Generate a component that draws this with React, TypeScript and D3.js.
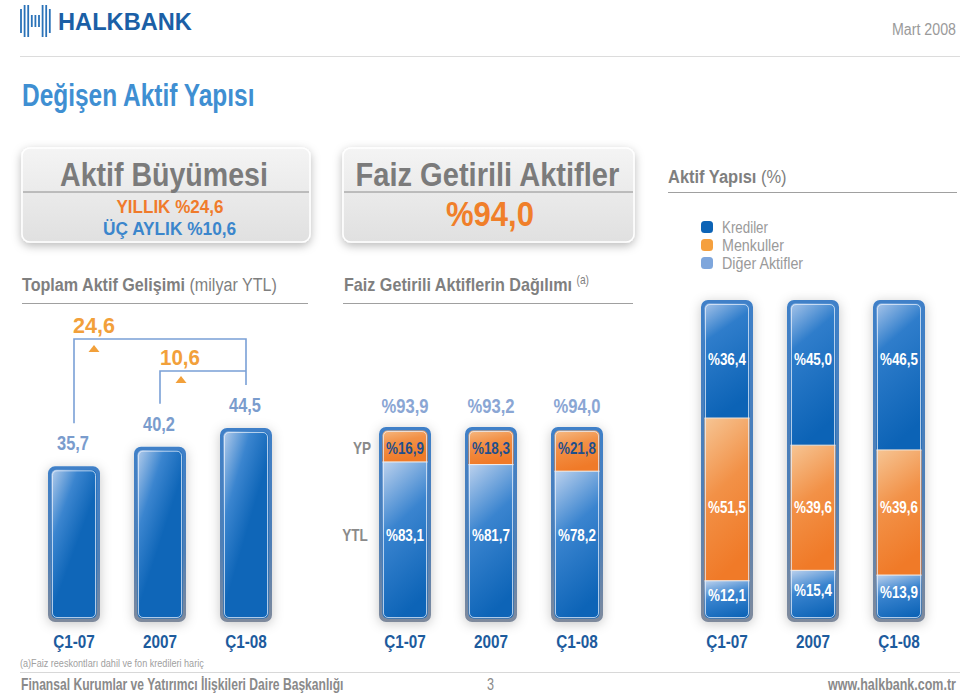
import React from "react";
import * as d3 from "d3";

// ---------- data ----------
const periods = ["Ç1-07", "2007", "Ç1-08"];
const totalAssets = [35.7, 40.2, 44.5]; // milyar YTL
const growthYearly = 24.6;
const growthQuarterly = 10.6;
const fgaShare = 94.0;
const fgaTotals = [93.9, 93.2, 94.0];
const fgaYP = [16.9, 18.3, 21.8];
const fgaYTL = [83.1, 81.7, 78.2];
const krediler = [36.4, 45.0, 46.5];
const menkuller = [51.5, 39.6, 39.6];
const digerAktifler = [12.1, 15.4, 13.9];
const legendLabels = ["Krediler", "Menkuller", "Diğer Aktifler"];
const legendColors = ["#0c63b6", "#f5a03e", "#7ea6dc"];

// ---------- helpers ----------
const FONT = "'Liberation Sans', Arial, sans-serif";
const fmt = (v: number) => d3.format(".1f")(v).replace(".", ",");
const BW = 52;
const BASE = 622;

let _ctx: CanvasRenderingContext2D | null = null;
function measure(text: string, size: number, bold: boolean) {
  if (!_ctx) _ctx = document.createElement("canvas").getContext("2d");
  if (!_ctx) return text.length * size * 0.55;
  _ctx.font = `${bold ? "bold " : ""}${size}px "Liberation Sans", Arial, sans-serif`;
  return _ctx.measureText(text).width;
}

// condensed text: parts rendered as tspans, horizontally scaled to a target width
function T({ x, y, size, bold = false, anchor = "start", fill, w, k = 0.8, children, parts }: any) {
  const ps: { t: string; b: boolean; s?: number; dy?: number }[] = parts ?? [{ t: String(children), b: bold }];
  const nat = ps.reduce((a, p) => a + measure(p.t, p.s ?? size, p.b), 0);
  const width = w ?? nat * k;
  const sx = width / nat;
  const x0 = anchor === "middle" ? x - width / 2 : anchor === "end" ? x - width : x;
  return (
    <text x={0} y={0} transform={`translate(${x0},${y}) scale(${sx},1)`} fontSize={size} fill={fill}>
      {ps.map((p, i) => (
        <tspan key={i} fontWeight={p.b ? "bold" : "normal"} fontSize={p.s ?? size} dy={p.dy ?? 0} style={{ whiteSpace: "pre" }}>
          {p.t}
        </tspan>
      ))}
    </text>
  );
}

function BarFrame({ cx, top, bottom, id, children }: any) {
  const x = cx - BW / 2;
  const h = bottom - top;
  return (
    <g>
      <rect x={x} y={top} width={BW} height={h} rx={7} fill="url(#frameGrad)" filter="url(#barShadow)" />
      <clipPath id={id}>
        <rect x={x + 3.5} y={top + 3.5} width={BW - 7} height={h - 7} rx={5} />
      </clipPath>
      <g clipPath={`url(#${id})`}>{children}</g>
      <rect x={x + 4.5} y={top + 4.5} width={BW - 9} height={h - 9} rx={4.5} fill="none" stroke="#e6eef9" strokeOpacity={0.75} strokeWidth={1} />
    </g>
  );
}

export default function App() {
  // left panel
  const xL = d3.scalePoint<string>().domain(periods).range([74, 246]);
  const yL = d3.scaleLinear().domain([0, 50]).range([BASE, BASE - 218]);
  // middle panel
  const xM = d3.scalePoint<string>().domain(periods).range([405, 577]);
  const topM = 427;
  const yM = d3.scaleLinear().domain([0, 100]).range([BASE - 3, topM + 3]);
  // right panel
  const xR = d3.scalePoint<string>().domain(periods).range([727, 899]);
  const topR = 300;
  const yR = d3.scaleLinear().domain([0, 100]).range([BASE - 3, topR + 3]);

  const bracket1Y = 339;
  const bracket2Y = 371;

  const gray = "#7f7f7f";
  const catColor = "#1d5b9d";

  return (
    <svg width={960} height={699} style={{ position: "absolute", left: 0, top: 0, display: "block", background: "#fff" }} fontFamily={FONT}>
      <defs>
        <linearGradient id="frameGrad" x1="0" y1="0" x2="0" y2="1">
          <stop offset="0" stopColor="#3f80c8" />
          <stop offset="0.6" stopColor="#4f7fb6" />
          <stop offset="1" stopColor="#7f8a9c" />
        </linearGradient>
        <linearGradient id="blueGrad" x1="0" y1="0" x2="0.5" y2="0.55">
          <stop offset="0" stopColor="#c9d9f0" />
          <stop offset="0.55" stopColor="#3b85cf" />
          <stop offset="1" stopColor="#0f66b8" />
        </linearGradient>
        <linearGradient id="segBlue" x1="0" y1="0" x2="0.3" y2="1">
          <stop offset="0" stopColor="#c2d5ef" />
          <stop offset="0.45" stopColor="#3a84cf" />
          <stop offset="1" stopColor="#0d64b7" />
        </linearGradient>
        <linearGradient id="segBlueTop" x1="0" y1="0" x2="0.3" y2="1">
          <stop offset="0" stopColor="#b9cfee" />
          <stop offset="0.35" stopColor="#2f7dcb" />
          <stop offset="1" stopColor="#0c63b6" />
        </linearGradient>
        <linearGradient id="segOrange" x1="0" y1="0" x2="0.3" y2="1">
          <stop offset="0" stopColor="#f6c797" />
          <stop offset="0.5" stopColor="#f29147" />
          <stop offset="1" stopColor="#f07a28" />
        </linearGradient>
        <linearGradient id="boxGrad" x1="0" y1="0" x2="0" y2="1">
          <stop offset="0" stopColor="#f4f4f4" />
          <stop offset="1" stopColor="#e0e0e0" />
        </linearGradient>
        <filter id="barShadow" x="-60%" y="-20%" width="220%" height="140%">
          <feDropShadow dx="0" dy="2" stdDeviation="6" floodColor="#000" floodOpacity="0.22" />
        </filter>
        <filter id="boxShadow" x="-10%" y="-20%" width="120%" height="150%">
          <feDropShadow dx="0" dy="3" stdDeviation="5" floodColor="#000" floodOpacity="0.28" />
        </filter>
      </defs>

      {/* ---------- header ---------- */}
      <g stroke="#2a72b8" strokeWidth={1.8}>
        {d3.range(9).map((i) => {
          const x = 21 + i * 3.6;
          const outer = i === 0 || i === 8;
          const mid = i >= 3 && i <= 5;
          const y1 = mid ? 15 : outer ? 9 : 5;
          const y2 = mid ? 27 : outer ? 33 : 37;
          return <line key={i} x1={x} x2={x} y1={y1} y2={y2} />;
        })}
      </g>
      <T x={58} y={30} size={24} bold fill="#1b5fa6" w={134}>HALKBANK</T>
      <T x={956} y={35} size={16} anchor="end" fill="#9a9a9a" w={64}>Mart 2008</T>
      <line x1={20} x2={960} y1={56.5} y2={56.5} stroke="#dcdcdc" strokeWidth={1} />

      <T x={22} y={106} size={32} bold fill="#3f8fd2" w={234}>Değişen Aktif Yapısı</T>

      {/* ---------- left panel header ---------- */}
      <rect x={22} y={148} width={288} height={94} rx={8} fill="url(#boxGrad)" stroke="#fff" strokeWidth={1.5} filter="url(#boxShadow)" />
      <line x1={23} x2={309} y1={192} y2={192} stroke="#8c8c8c" strokeWidth={1} />
      <T x={164} y={186} size={34} bold anchor="middle" fill="#7b7b7b" w={208}>Aktif Büyümesi</T>
      <T x={170} y={213} size={19} bold anchor="middle" fill="#f07b2b" w={107}>{`YILLIK %${fmt(growthYearly)}`}</T>
      <T x={170} y={235} size={19} bold anchor="middle" fill="#3b86cc" w={134}>{`ÜÇ AYLIK %${fmt(growthQuarterly)}`}</T>

      <T x={22} y={291} size={19} fill={gray} w={256} parts={[{ t: "Toplam Aktif Gelişimi ", b: true }, { t: "(milyar YTL)", b: false }]} />
      <line x1={22} x2={308} y1={303.5} y2={303.5} stroke="#a0a0a0" strokeWidth={1} />

      {/* ---------- middle panel header ---------- */}
      <rect x={343} y={148} width={291} height={94} rx={8} fill="url(#boxGrad)" stroke="#fff" strokeWidth={1.5} filter="url(#boxShadow)" />
      <line x1={344} x2={633} y1={192} y2={192} stroke="#8c8c8c" strokeWidth={1} />
      <T x={488} y={186} size={34} bold anchor="middle" fill="#7b7b7b" w={265}>Faiz Getirili Aktifler</T>
      <T x={490} y={226} size={36} bold anchor="middle" fill="#f07f2a" w={88}>{`%${fmt(fgaShare)}`}</T>
      <T x={344} y={291} size={19} fill={gray} w={246} parts={[{ t: "Faiz Getirili Aktiflerin Dağılımı ", b: true }, { t: "(a)", b: false, s: 12, dy: -7 }]} />
      <line x1={343} x2={633} y1={303.5} y2={303.5} stroke="#a0a0a0" strokeWidth={1} />

      {/* ---------- right panel header ---------- */}
      <T x={668} y={183} size={19} fill={gray} w={119} parts={[{ t: "Aktif Yapısı ", b: true }, { t: "(%)", b: false }]} />
      <line x1={668} x2={957} y1={192.5} y2={192.5} stroke="#a0a0a0" strokeWidth={1} />
      {legendLabels.map((l, i) => (
        <g key={l}>
          <rect x={701} y={221 + i * 18} width={12} height={12} rx={3.5} fill={legendColors[i]} />
          <T x={722} y={233 + i * 18} size={16} fill="#9a9a9a" w={[46, 62, 82][i]}>{l}</T>
        </g>
      ))}

      {/* ---------- left chart ---------- */}
      {periods.map((p, i) => {
        const cx = xL(p)!;
        const top = yL(totalAssets[i]);
        return (
          <g key={p}>
            <BarFrame cx={cx} top={top} bottom={BASE} id={`clipL${i}`}>
              <rect x={cx - BW / 2} y={top} width={BW} height={BASE - top} fill="url(#blueGrad)" />
            </BarFrame>
            <T x={cx - 1} y={top - 16} size={20.5} bold anchor="middle" fill="#7a9ccd" k={0.8}>{fmt(totalAssets[i])}</T>
          </g>
        );
      })}
      {(() => {
        const x0 = xL(periods[0])!;
        const x1 = xL(periods[1])!;
        const x2 = xL(periods[2])!;
        const b0 = yL(totalAssets[0]) - 43;
        const b1 = yL(totalAssets[1]) - 43;
        const b2 = yL(totalAssets[2]) - 43;
        const tri = (x: number, y: number) => `M${x},${y} L${x + 5.5},${y + 7} L${x - 5.5},${y + 7} Z`;
        return (
          <g>
            <path d={`M${x0},${b0} V${bracket1Y} H${x2} V${b2}`} fill="none" stroke="#7aa0d6" strokeWidth={1.6} />
            <path d={`M${x1},${b1} V${bracket2Y} H${x2}`} fill="none" stroke="#7aa0d6" strokeWidth={1.6} />
            <path d={tri(x0 + 20, bracket1Y + 6)} fill="#f2a03a" />
            <path d={tri(x1 + 21, bracket2Y + 5)} fill="#f2a03a" />
            <T x={x0 - 1} y={bracket1Y - 6} size={22} bold fill="#f2a03a" w={42}>{fmt(growthYearly)}</T>
            <T x={x1} y={bracket2Y - 6} size={22} bold fill="#f2a03a" w={40}>{fmt(growthQuarterly)}</T>
          </g>
        );
      })()}

      {/* ---------- middle chart ---------- */}
      <T x={362} y={454} size={16} bold anchor="middle" fill="#8a8a8a" k={0.85}>YP</T>
      <T x={355} y={541} size={16} bold anchor="middle" fill="#8a8a8a" k={0.85}>YTL</T>
      {periods.map((p, i) => {
        const cx = xM(p)!;
        const ytlTop = yM(fgaYTL[i]);
        const ypTop = yM(fgaYTL[i] + fgaYP[i]);
        return (
          <g key={p}>
            <BarFrame cx={cx} top={topM} bottom={BASE} id={`clipM${i}`}>
              <rect x={cx - BW / 2} y={ytlTop} width={BW} height={yM(0) - ytlTop + 4} fill="url(#segBlue)" />
              <rect x={cx - BW / 2} y={ypTop - 4} width={BW} height={ytlTop - ypTop + 4} fill="url(#segOrange)" />
              <line x1={cx - BW / 2} x2={cx + BW / 2} y1={ytlTop} y2={ytlTop} stroke="#f4f4f4" strokeWidth={1} />
            </BarFrame>
            <T x={cx} y={topM - 14} size={20.5} bold anchor="middle" fill="#8aa6d4" k={0.81}>{`%${fmt(fgaTotals[i])}`}</T>
            <T x={cx} y={454} size={16} bold anchor="middle" fill="#1f4f8c" k={0.84}>{`%${fmt(fgaYP[i])}`}</T>
            <T x={cx} y={541} size={16} bold anchor="middle" fill="#ffffff" k={0.84}>{`%${fmt(fgaYTL[i])}`}</T>
          </g>
        );
      })}

      {/* ---------- right chart ---------- */}
      {periods.map((p, i) => {
        const cx = xR(p)!;
        const dTop = yR(digerAktifler[i]);
        const mTop = yR(digerAktifler[i] + menkuller[i]);
        const kTop = yR(digerAktifler[i] + menkuller[i] + krediler[i]);
        return (
          <g key={p}>
            <BarFrame cx={cx} top={topR} bottom={BASE} id={`clipR${i}`}>
              <rect x={cx - BW / 2} y={dTop} width={BW} height={yR(0) - dTop + 4} fill="url(#segBlue)" />
              <rect x={cx - BW / 2} y={mTop} width={BW} height={dTop - mTop} fill="url(#segOrange)" />
              <rect x={cx - BW / 2} y={kTop - 4} width={BW} height={mTop - kTop + 4} fill="url(#segBlueTop)" />
              <line x1={cx - BW / 2} x2={cx + BW / 2} y1={dTop} y2={dTop} stroke="#f4f4f4" strokeWidth={1} />
              <line x1={cx - BW / 2} x2={cx + BW / 2} y1={mTop} y2={mTop} stroke="#f4e6d8" strokeWidth={1} />
            </BarFrame>
            <T x={cx} y={365} size={16} bold anchor="middle" fill="#ffffff" k={0.84}>{`%${fmt(krediler[i])}`}</T>
            <T x={cx} y={513} size={16} bold anchor="middle" fill="#ffffff" k={0.84}>{`%${fmt(menkuller[i])}`}</T>
            <T x={cx} y={(dTop + yR(0)) / 2 + 1} size={16} bold anchor="middle" fill="#ffffff" k={0.84}>{`%${fmt(digerAktifler[i])}`}</T>
          </g>
        );
      })}

      {/* ---------- category labels ---------- */}
      {[xL, xM, xR].map((sc, k) =>
        periods.map((p) => (
          <T key={`${k}-${p}`} x={sc(p)!} y={648} size={18} bold anchor="middle" fill={catColor} k={0.85}>{p}</T>
        ))
      )}

      {/* ---------- footer ---------- */}
      <T x={20} y={667} size={11} fill="#a0a0a0" w={184}>(a)Faiz reeskontları dahil ve fon kredileri hariç</T>
      <line x1={20} x2={960} y1={672.5} y2={672.5} stroke="#d8d8d8" strokeWidth={1} />
      <T x={21} y={690} size={16} bold fill="#8a8a8a" w={323}>Finansal Kurumlar ve Yatırımcı İlişkileri Daire Başkanlığı</T>
      <T x={487} y={690} size={16} fill="#8a8a8a" w={7}>3</T>
      <T x={956} y={690} size={16} bold anchor="end" fill="#8a8a8a" w={128}>www.halkbank.com.tr</T>
    </svg>
  );
}
